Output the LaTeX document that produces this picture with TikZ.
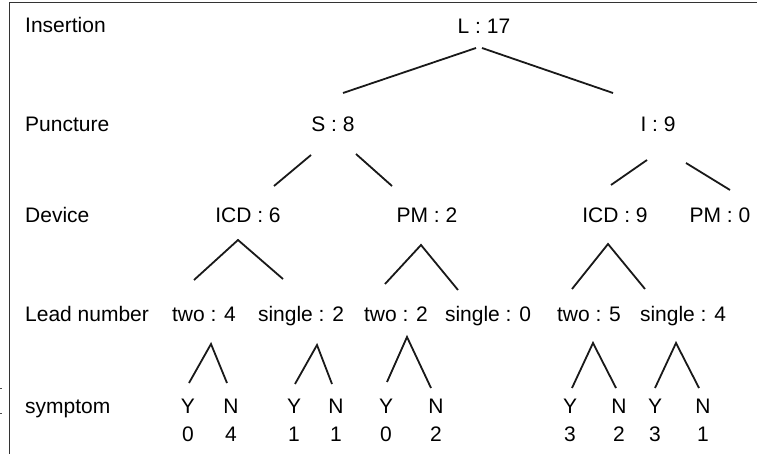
\documentclass[tikz,border=0pt]{standalone}
\usepackage{fontspec}
\setmainfont{Liberation Sans}
\begin{document}
\begin{tikzpicture}[x=1pt,y=-1pt,
  lbl/.style={anchor=base,inner sep=0pt,font=\fontsize{21}{25}\selectfont},
  rowlbl/.style={anchor=base west,inner sep=0pt,font=\fontsize{21}{25}\selectfont},
  branch/.style={line width=1.8pt,black!90},
  frame/.style={line width=1pt,black!80}]
\useasboundingbox (0,0) rectangle (757,454);
% frame
\draw[frame] (9,454) -- (9,3) -- (757,3);
\draw[black!70,line width=0.8pt] (0,388) -- (2,388) (0,413) -- (2,413);
% row labels
\node[rowlbl] (rIns) at (25,33) {Insertion};
\node[rowlbl] (rPun) at (25,132) {Puncture};
\node[rowlbl] (rDev) at (25,223) {Device};
\node[rowlbl] (rLead) at (25,321) {Lead number};
\node[rowlbl] (rSym) at (25,413) {symptom};
% tree nodes
\node[lbl] (L) at (484,34) {L : 17};
\node[lbl] (S) at (333,132) {S : 8};
\node[lbl] (I) at (658,132) {I : 9};
\node[lbl] (ICDa) at (248,223) {ICD : 6};
\node[lbl] (PMa) at (427,223) {PM : 2};
\node[lbl] (ICDb) at (615,223) {ICD : 9};
\node[lbl] (PMb) at (720,223) {PM : 0};
\node[lbl] (twoA) at (204,321) {two : 4};
\node[lbl] (sinA) at (301,321) {single : 2};
\node[lbl] (twoB) at (396,321) {two : 2};
\node[lbl] (sinB) at (488,321) {single : 0};
\node[lbl] (twoC) at (589,321) {two : 5};
\node[lbl] (sinC) at (683,321) {single : 4};
% symptom leaves
\foreach \nm/\x/\t/\v in {yA/188/Y/0, nA/231/N/4, yB/294/Y/1, nB/336/N/1,
    yC/386/Y/0, nC/436/N/2, yD/570/Y/3, nD/619/N/2, yE/655/Y/3, nE/703/N/1}{
  \node[lbl] (\nm) at (\x,413) {\t};
  \node[lbl] (\nm-v) at (\x,441) {\v};
}
% connector end points
\coordinate (L-l) at (476,48);  \coordinate (S-t) at (343,93);
\coordinate (L-r) at (482,48);  \coordinate (I-t) at (613,93);
\coordinate (S-l) at (311,155); \coordinate (ICDa-t) at (274,186);
\coordinate (S-r) at (356,154); \coordinate (PMa-t) at (392,186);
\coordinate (I-l) at (647,160); \coordinate (ICDb-t) at (611,185);
\coordinate (I-r) at (686,163); \coordinate (PMb-t) at (730,190);
\coordinate (ICDa-b) at (238,240); \coordinate (twoA-t) at (194,280); \coordinate (sinA-t) at (283,279);
\coordinate (PMa-b) at (421,245); \coordinate (twoB-t) at (385,284); \coordinate (sinB-t) at (458,290);
\coordinate (ICDb-b) at (608,244); \coordinate (twoC-t) at (572,289); \coordinate (sinC-t) at (645,289);
\coordinate (twoA-b) at (211,344); \coordinate (yA-t) at (189,383); \coordinate (nA-t) at (227,383);
\coordinate (sinA-b) at (317,345); \coordinate (yB-t) at (295,384); \coordinate (nB-t) at (332,384);
\coordinate (twoB-b) at (407,337); \coordinate (yC-t) at (387,382); \coordinate (nC-t) at (431,388);
\coordinate (twoC-b) at (593,343); \coordinate (yD-t) at (572,388); \coordinate (nD-t) at (616,388);
\coordinate (sinC-b) at (676,343); \coordinate (yE-t) at (655,388); \coordinate (nE-t) at (699,388);
% connectors
\draw[branch] (S-t) -- (L-l);
\draw[branch] (L-r) -- (I-t);
\draw[branch] (ICDa-t) -- (S-l);
\draw[branch] (S-r) -- (PMa-t);
\draw[branch] (ICDb-t) -- (I-l);
\draw[branch] (I-r) -- (PMb-t);
\draw[branch] (twoA-t) -- (ICDa-b) -- (sinA-t);
\draw[branch] (twoB-t) -- (PMa-b) -- (sinB-t);
\draw[branch] (twoC-t) -- (ICDb-b) -- (sinC-t);
\draw[branch] (yA-t) -- (twoA-b) -- (nA-t);
\draw[branch] (yB-t) -- (sinA-b) -- (nB-t);
\draw[branch] (yC-t) -- (twoB-b) -- (nC-t);
\draw[branch] (yD-t) -- (twoC-b) -- (nD-t);
\draw[branch] (yE-t) -- (sinC-b) -- (nE-t);
\end{tikzpicture}
\end{document}
